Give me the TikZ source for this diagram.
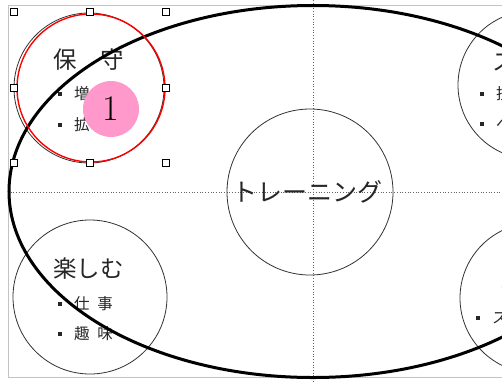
\documentclass[tikz,border=0pt]{standalone}
\usepackage{fontspec}
\newfontfamily\jp{Noto Sans CJK JP}
\usetikzlibrary{shapes.geometric}
\definecolor{pinkdot}{RGB}{255,153,204}
\definecolor{framegray}{RGB}{195,195,195}
\definecolor{guidegray}{RGB}{100,100,100}
\definecolor{circgray}{RGB}{50,50,50}
\tikzset{
  ring/.style={circle, draw=circgray, line width=0.8pt, inner sep=0pt},
  jptext/.style={anchor=west, inner sep=0pt, text=black!85, font=\jp\fontsize{#1}{#1}\selectfont},
  handle/.style={rectangle, draw=black, fill=white, line width=0.8pt, minimum size=7.5pt, inner sep=0pt},
  guide/.style={guidegray, line width=0.7pt, dotted},
  framerule/.style={framegray, line width=1pt},
}
\newcommand{\bsq}{\rule[0.25em]{3.8pt}{3.8pt}}
\begin{document}
\begin{tikzpicture}[x=1pt,y=-1pt]
\useasboundingbox (0,0) rectangle (502,381);
\clip (0,0) rectangle (502,381);
\fill[white] (0,0) rectangle (502,381);
% frame
\coordinate (ftl) at (8,5);
\coordinate (ftr) at (502,5);
\coordinate (fbl) at (8,377);
\coordinate (fbr) at (502,377);
\draw[framerule] (ftr) -- (ftl) -- (fbl) -- (fbr);
% guides
\coordinate (vt) at (313,0);
\coordinate (vb) at (313,381);
\coordinate (hl) at (8,192);
\coordinate (hr) at (502,192);
\draw[guide] (vt) -- (vb);
\draw[guide] (hl) -- (hr);
% circles
\node[ring, minimum size=150pt] (keep) at (89,88) {};
\node[ring, minimum size=154pt] (enjoy) at (90,297) {};
\node[ring, minimum size=166pt] (train) at (310,192) {};
\node[ring, minimum size=148pt] (grow) at (532,85) {};
\node[ring, minimum size=150pt] (misc) at (535,298) {};
% texts
\node[jptext=23.5] (keepT) at (53,60) {保　守};
\node[jptext=15.5] (keep1) at (58,94) {\bsq\hspace{12pt}増\hspace{8pt}強};
\node[jptext=15.5] (keep2) at (58,125) {\bsq\hspace{12pt}拡\hspace{8pt}大};
\node[jptext=23.5] (enjoyT) at (53,269) {楽しむ};
\node[jptext=15.5] (enjoy1) at (58,304) {\bsq\hspace{12pt}仕\hspace{8pt}事};
\node[jptext=15.5] (enjoy2) at (58,334) {\bsq\hspace{12pt}趣\hspace{8pt}味};
\node[jptext=25] (trainT) at (232,192) {トレーニング};
\node[jptext=23.5] (growT) at (492,62) {ス　キ　ル};
\node[jptext=15.5] (grow1) at (480,94) {\bsq\hspace{12pt}技\hspace{8pt}術};
\node[jptext=15.5] (grow2) at (480,124) {\bsq\hspace{12pt}ペ\hspace{8pt}ース};
\node[jptext=23.5] (miscT) at (498,282) {ミ　ス};
\node[jptext=15.5] (misc1) at (476,318) {\bsq\hspace{12pt}ス\hspace{8pt}トレス};
% big ellipse
\node[ellipse, draw=black, line width=3pt, inner sep=0pt, minimum width=608pt, minimum height=372pt] (oval) at (313,191.5) {};
% selection
\node[circle, draw=red, line width=1.4pt, inner sep=0pt, minimum size=148pt] (sel) at (91,88) {};
\node[circle, fill=pinkdot, inner sep=0pt, minimum size=56pt, font=\fontsize{36}{36}\selectfont] (num) at (111,109) {1};
\node[handle] (h1) at (14,12) {};
\node[handle] (h2) at (90,12) {};
\node[handle] (h3) at (166,12) {};
\node[handle] (h4) at (14,88) {};
\node[handle] (h5) at (166,88) {};
\node[handle] (h6) at (14,163) {};
\node[handle] (h7) at (90,163) {};
\node[handle] (h8) at (166,163) {};
\end{tikzpicture}
\end{document}
